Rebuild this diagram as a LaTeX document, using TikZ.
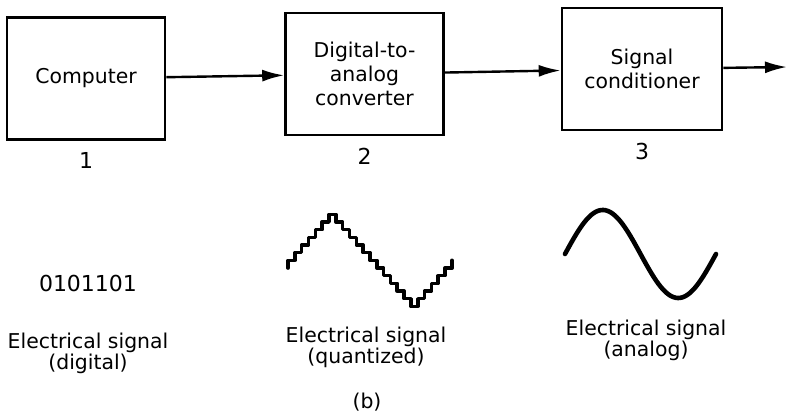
\documentclass[tikz,border=0pt]{standalone}
\usepackage{fontspec}
\setmainfont{DejaVu Sans}
\usetikzlibrary{positioning,arrows.meta}
\tikzset{
  >={Latex[length=11pt,width=6pt]},
  block/.style={draw, line width=1.3pt, minimum width=79pt, minimum height=61pt,
                align=center, inner sep=0pt, font=\fontsize{10.2}{12}\selectfont},
  num/.style={font=\fontsize{11}{12}\selectfont},
  sig/.style={align=center, inner sep=0pt, font=\fontsize{10.2}{10.5}\selectfont},
  wave/.style={line width=1.8pt, line join=round, line cap=round},
  l/.style={->, line width=1.2pt},
}
\begin{document}
\begin{tikzpicture}[x=0.5pt,y=-0.5pt]
  \useasboundingbox (0,0) rectangle (787,416);
  \node[block] (comp) at (86,78.5) {Computer};
  \node[block] (dac) at (364.5,74) {Digital-to-\\analog\\converter};
  \node[block,minimum width=80pt] (cond) at (642,69) {Signal\\conditioner};
  \coordinate (out) at (787,67);
  \draw[l] (comp) -- (dac); \draw[l] (dac) -- (cond); \draw[l] (cond) -- (out);
  \node[num,below=2.5pt of comp] (n1) {1};
  \node[num,below=2.5pt of dac] (n2) {2};
  \node[num,below=2.5pt of cond] (n3) {3};
  % signals
  \node[sig,font=\fontsize{11}{12}\selectfont] (bits) at (88,283) {0101101};
  \draw[wave] (288,268) -- ++(0,-7.67)
    \foreach \d in {-1,-1,-1,-1,-1,-1,1,1,1,1,1,1,1,1,1,1,1,1,-1,-1,-1,-1,-1,-1}
      { -- ++(6.83,0) -- ++(0,7.67*\d) };
  \draw[wave,line width=2.3pt] plot[domain=0:360,samples=80] ({565+\x/360*151},{254-44*sin(\x)});
  \node[sig] (s1) at (88,353) {Electrical signal\\(digital)};
  \node[sig] (s2) at (366,347) {Electrical signal\\(quantized)};
  \node[sig] (s3) at (646,340) {Electrical signal\\(analog)};
  \node[sig] (cap) at (367,402) {(b)};
\end{tikzpicture}
\end{document}
